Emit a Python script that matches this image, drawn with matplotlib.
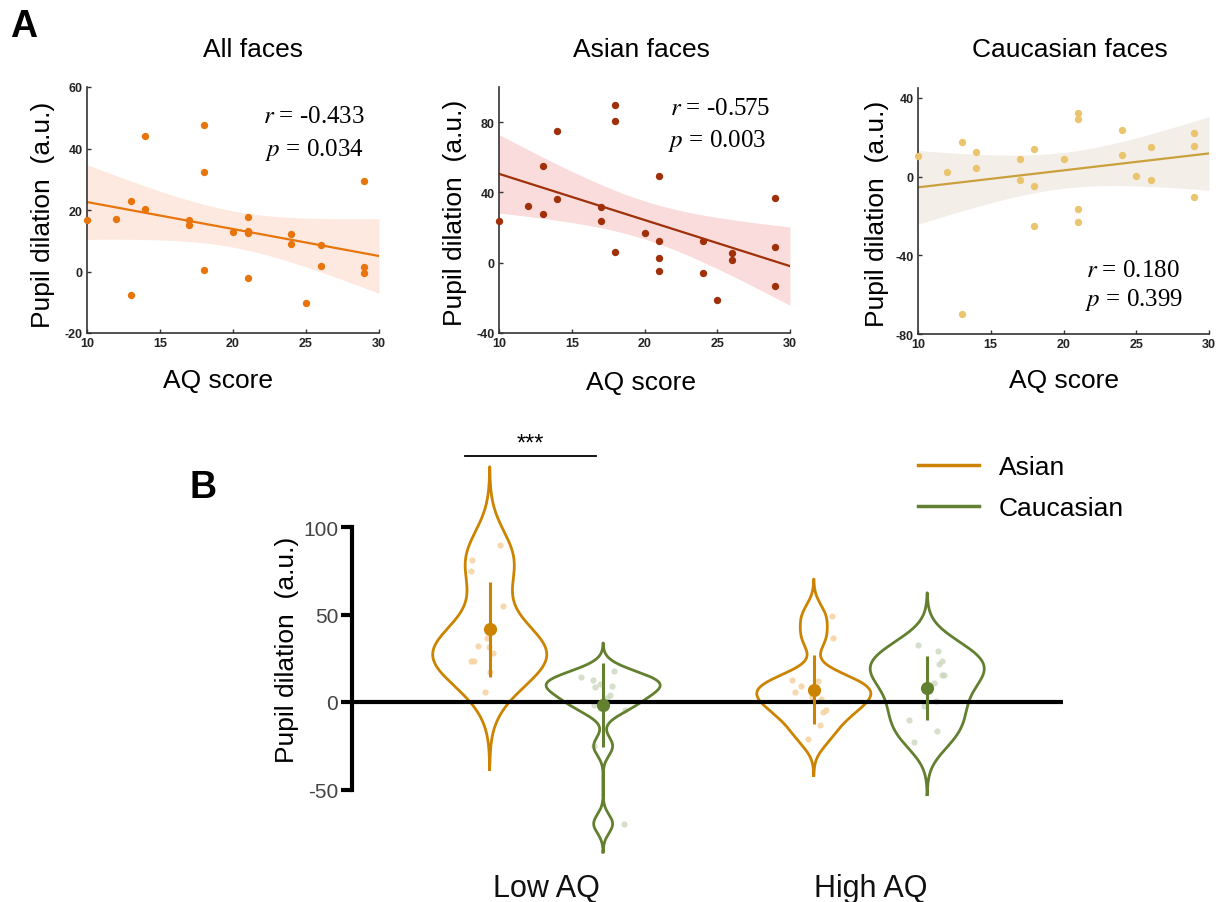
import numpy as np
import matplotlib
matplotlib.use('Agg')
import matplotlib.pyplot as plt
from matplotlib.lines import Line2D

# ---------------- data ----------------
aq_score = [10, 12, 13, 13, 14, 14, 17, 17, 18, 18, 18, 20,
            21, 21, 21, 21, 24, 24, 25, 26, 26, 29, 29, 29]
all_faces = [16.9, 17.2, 22.9, -7.5, 44.0, 20.4, 16.6, 15.0, 47.7, 32.5, 0.6, 12.8,
             17.6, 13.3, 12.4, -2.1, 12.1, 8.8, -10.2, 8.5, 1.7, 29.3, 1.6, -0.6]
asian_faces = [23.5, 32.0, 54.8, 27.9, 75.1, 36.4, 31.7, 23.7, 90.0, 80.9, 5.9, 17.1,
               49.3, 12.1, 2.7, -4.5, 12.5, -5.9, -21.0, 5.5, 1.7, 36.6, 8.9, -13.1]
caucasian_faces = [10.3, 2.4, 17.6, -69.6, 12.5, 4.2, 9.1, -1.5, 14.2, -4.7, -25.2, 8.8,
                   32.4, 29.1, -16.6, -23.0, 23.5, 11.1, 0.3, 15.2, -2.0, 22.0, 15.7, -10.3]
panel_titles = ['All faces', 'Asian faces', 'Caucasian faces']
r_values = ['-0.433', '-0.575', '0.180']
p_values = ['0.034', '0.003', '0.399']
groups = ['Low AQ', 'High AQ']
low_aq_max = 20          # participants with AQ <= 20 form the Low AQ group
face_types = ['Asian', 'Caucasian']
x_ticks = [10, 15, 20, 25, 30]
y_ticks = [[-20, 0, 20, 40, 60], [-40, 0, 40, 80], [-80, -40, 0, 40]]
y_limits = [(-20, 60), (-40, 100), (-80, 45)]
b_ticks = [-50, 0, 50, 100]
sig_label = '***'

# ---------------- style ----------------
W, H = 1218, 903
plt.rcParams['font.family'] = ['Liberation Sans', 'DejaVu Sans']
plt.rcParams['mathtext.fontset'] = 'stix'
plt.rcParams['axes.unicode_minus'] = False

dot_cols = ['#E8750C', '#A0300A', '#EBC46E']
line_cols = ['#E8750C', '#A0300A', '#C9A03C']
band_cols = ['#FDE9DF', '#FADCDC', '#F3EEE8']
c_asian, c_cauc = '#CC8400', '#62802F'
pt_asian, pt_cauc = '#F6CF9A', '#CCD7BE'

fig = plt.figure(figsize=(W / 100, H / 100), dpi=100)


def ax_px(l, t, r, b):
    return fig.add_axes([l / W, 1 - b / H, (r - l) / W, (b - t) / H])


def ftext(x, y, s, **kw):
    return fig.text(x / W, 1 - y / H, s, **kw)


def fit_band(x, y, xs, tcrit=2.074):
    x = np.asarray(x, float)
    y = np.asarray(y, float)
    n = len(x)
    b, a = np.polyfit(x, y, 1)
    s = np.sqrt(np.sum((y - (a + b * x)) ** 2) / (n - 2))
    sxx = np.sum((x - x.mean()) ** 2)
    fit = a + b * xs
    se = s * np.sqrt(1 / n + (xs - x.mean()) ** 2 / sxx)
    return fit, fit - tcrit * se, fit + tcrit * se


# ---------------- panel A ----------------
rects = [(87, 88, 379, 334), (499, 88, 790, 334), (918, 89, 1209, 335)]
series = [all_faces, asian_faces, caucasian_faces]
title_x = [253, 641, 1070]
xlabel_pos = [(218, 381), (641, 383), (1064, 381)]
ylabel_pos = [(43, 215), (455, 213), (877, 214)]
rtext_pos = [((263, 122.7), (265, 156)), ((670, 115), (668, 146.7)), ((1086, 277.3), (1085, 306))]

xs = np.linspace(10, 30, 200)
for i in range(3):
    ax = ax_px(*rects[i])
    fit, lo, hi = fit_band(aq_score, series[i], xs)
    ax.fill_between(xs, lo, hi, color=band_cols[i], lw=0, zorder=1)
    ax.plot(xs, fit, color=line_cols[i], lw=1.6, zorder=2)
    ax.scatter(aq_score, series[i], s=28, color=dot_cols[i], lw=0, zorder=3, clip_on=False)
    ax.set_xlim(10, 30)
    ax.set_ylim(*y_limits[i])
    ax.set_xticks(x_ticks)
    ax.set_yticks(y_ticks[i])
    for sp in ['top', 'right']:
        ax.spines[sp].set_visible(False)
    for sp in ['left', 'bottom']:
        ax.spines[sp].set_color('#333333')
        ax.spines[sp].set_linewidth(1.2)
    ax.tick_params(direction='in', length=3, width=1, colors='#333333', labelsize=9, pad=3)
    for lab in ax.get_xticklabels() + ax.get_yticklabels():
        lab.set_fontweight('bold')
        lab.set_color('#222222')
    ftext(title_x[i], 50, panel_titles[i], ha='center', va='center', fontsize=19)
    ftext(*xlabel_pos[i], 'AQ score', ha='center', va='center', fontsize=19)
    ftext(*ylabel_pos[i], 'Pupil dilation  (a.u.)', ha='center', va='center',
          rotation=90, fontsize=19)
    (rx, ry), (px, py) = rtext_pos[i]
    ftext(rx, ry, r'$r$ = ' + r_values[i], ha='left', va='baseline', fontsize=18,
          family='Liberation Serif')
    ftext(px, py, r'$p$ = ' + p_values[i], ha='left', va='baseline', fontsize=18,
          family='Liberation Serif')

ftext(24, 27, 'A', ha='center', va='center', fontsize=27, fontweight='bold')
ftext(203, 488, 'B', ha='center', va='center', fontsize=27, fontweight='bold')

# ---------------- panel B ----------------
axb = ax_px(352, 440.5, 1063, 860.5)
axb.set_xlim(-0.6, 1.594)
axb.set_ylim(-90, 150)

aq = np.asarray(aq_score)
low = aq <= low_aq_max
data_b = {
    ('Low AQ', 'Asian'): np.asarray(asian_faces)[low],
    ('Low AQ', 'Caucasian'): np.asarray(caucasian_faces)[low],
    ('High AQ', 'Asian'): np.asarray(asian_faces)[~low],
    ('High AQ', 'Caucasian'): np.asarray(caucasian_faces)[~low],
}
offsets = {'Asian': -0.175, 'Caucasian': 0.175}
line_c = {'Asian': c_asian, 'Caucasian': c_cauc}
pt_c = {'Asian': pt_asian, 'Caucasian': pt_cauc}
half_width = 0.176


def bw_nrd0(v):
    q1, q3 = np.percentile(v, [25, 75])
    return 0.9 * min(np.std(v, ddof=1), (q3 - q1) / 1.34) * len(v) ** -0.2


rng = np.random.default_rng(3)
for gi, g in enumerate(groups):
    for f in face_types:
        v = data_b[(g, f)]
        pos = gi + offsets[f]
        bw = bw_nrd0(v)
        grid = np.linspace(v.min() - 3 * bw, v.max() + 3 * bw, 512)
        dens = np.exp(-0.5 * ((grid[:, None] - v[None, :]) / bw) ** 2).sum(1)
        wdt = dens / dens.max() * half_width
        xx = np.concatenate([pos - wdt, (pos + wdt)[::-1], [pos - wdt[0]]])
        yy = np.concatenate([grid, grid[::-1], [grid[0]]])
        axb.plot(xx, yy, color=line_c[f], lw=2.0, zorder=2, solid_joinstyle='round')
        jit = rng.uniform(-0.07, 0.07, len(v))
        axb.scatter(pos + jit, v, s=20, color=pt_c[f], alpha=0.8, lw=0, zorder=1.5)
        m, sd = v.mean(), v.std(ddof=1)
        axb.plot([pos, pos], [m - sd, m + sd], color=line_c[f], lw=2.2, zorder=4,
                 solid_capstyle='butt')
        axb.scatter([pos], [m], s=90, color=line_c[f], lw=0, zorder=5)

axb.axhline(0, color='black', lw=3.0, zorder=3)

for sp in ['top', 'right', 'bottom']:
    axb.spines[sp].set_visible(False)
axb.spines['left'].set_linewidth(3.0)
axb.spines['left'].set_bounds(-50, 100)
axb.set_yticks(b_ticks)
axb.tick_params(axis='y', direction='out', length=8, width=3.0, labelsize=15,
                labelcolor='#444444', pad=2)
axb.set_xticks([0, 1])
axb.set_xticklabels(groups, fontsize=22, color='#111111')
axb.tick_params(axis='x', length=0, pad=10)
ftext(287, 650, 'Pupil dilation  (a.u.)', ha='center', va='center', rotation=90, fontsize=19)

# significance bracket
axb.plot([-0.252, 0.153], [140.6, 140.6], color='black', lw=1.3, clip_on=False)
axb.text(-0.05, 141.5, sig_label, ha='center', va='bottom', fontsize=17)

handles = [Line2D([], [], color=c_asian, lw=2.5), Line2D([], [], color=c_cauc, lw=2.5)]
axb.legend(handles, face_types, loc='upper left', bbox_to_anchor=(918 / W, 1 - 456 / H),
           bbox_transform=fig.transFigure, frameon=False, fontsize=19, handlelength=2.3,
           handletextpad=0.75, labelspacing=0.65, borderpad=0, borderaxespad=0)

fig.savefig('out.png', dpi=100)
